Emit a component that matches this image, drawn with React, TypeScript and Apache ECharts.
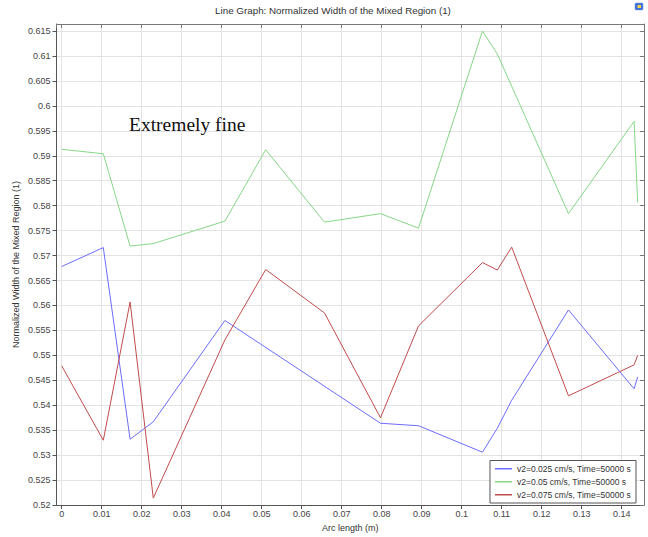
import React, { useEffect, useRef } from "react";
import * as echarts from "echarts";

// Arc length positions (m) shared by the three evaluation lines
const arcLength = [0, 0.0104, 0.0171, 0.0229, 0.0408, 0.051, 0.0657, 0.0797, 0.0892, 0.1052, 0.1089, 0.1125, 0.1267, 0.1431, 0.144];

// Normalized width of the mixed region (1); null where the line has no vertex
const widthV025 = [0.5678, 0.5716, 0.5332, 0.5367, 0.557, null, null, 0.5364, 0.5359, 0.5306, 0.5354, 0.541, 0.5591, 0.5433, 0.5457];
const widthV050 = [0.5913, 0.5904, 0.5719, 0.5724, 0.5769, 0.5912, 0.5767, 0.5784, 0.5755, 0.615, 0.6104, null, 0.5784, 0.5969, 0.5806];
const widthV075 = [0.5479, 0.533, 0.5607, 0.5214, 0.5531, 0.5672, 0.5585, 0.5375, 0.5559, 0.5686, 0.5671, 0.5717, 0.5419, 0.5481, 0.55];

const seriesNames = [
  "v2=0.025 cm/s, Time=50000 s",
  "v2=0.05 cm/s, Time=50000 s",
  "v2=0.075 cm/s, Time=50000 s",
];
const seriesValues = [widthV025, widthV050, widthV075];
const seriesColors = ["#6c6cff", "#86d686", "#c04c4c"];

const titleText = "Line Graph: Normalized Width of the Mixed Region (1)";
const xAxisTitle = "Arc length (m)";
const yAxisTitle = "Normalized Width of the Mixed Region (1)";
const annotationText = "Extremely fine";

const X_MIN = -0.0013;
const X_MAX = 0.14558;
const X_STEP = 0.01;
const Y_MIN = 0.52;
const Y_MAX = 0.6164;
const Y_STEP = 0.005;

const UI_FONT = "'Liberation Sans', Arial, sans-serif";

function toPairs(values: (number | null)[]) {
  const out: [number, number][] = [];
  values.forEach((v, i) => {
    if (v !== null) out.push([arcLength[i], v]);
  });
  return out;
}

export default function App() {
  const ref = useRef<HTMLDivElement>(null);

  useEffect(() => {
    if (!ref.current) return;
    const chart = echarts.init(ref.current, undefined, { renderer: "svg" });

    const frameAxisX = {
      type: "value" as const,
      min: X_MIN,
      max: X_MAX,
      splitNumber: 15,
      minInterval: X_STEP,
      maxInterval: X_STEP,
    };
    const frameAxisY = {
      type: "value" as const,
      min: Y_MIN,
      max: Y_MAX,
      splitNumber: 19,
      minInterval: Y_STEP,
      maxInterval: Y_STEP,
    };

    chart.setOption({
      animation: false,
      backgroundColor: "#ffffff",
      grid: { left: 56.5, right: 4, top: 24, bottom: 26, containLabel: false },
      xAxis: [
        {
          ...frameAxisX,
          position: "bottom",
          name: xAxisTitle,
          nameLocation: "middle",
          nameGap: 14,
          nameTextStyle: { fontSize: 9, color: "#333", fontFamily: UI_FONT },
          axisLine: { onZero: false, lineStyle: { color: "#555", width: 1 } },
          axisTick: { inside: false, length: 4, lineStyle: { color: "#555" } },
          axisLabel: { showMinLabel: false, showMaxLabel: false, fontSize: 9, color: "#444", margin: 4, fontFamily: UI_FONT },
          splitLine: { show: true, lineStyle: { color: "#e3e3e3", width: 1 } },
        },
        {
          ...frameAxisX,
          position: "top",
          axisLine: { onZero: false, lineStyle: { color: "#777", width: 1 } },
          axisTick: { inside: true, length: 4, lineStyle: { color: "#777" } },
          axisLabel: { show: false },
          splitLine: { show: false },
        },
      ],
      yAxis: [
        {
          ...frameAxisY,
          position: "left",
          name: yAxisTitle,
          nameLocation: "middle",
          nameGap: 36,
          nameMoveOverlap: false,
          nameTextStyle: { fontSize: 9, color: "#333", fontFamily: UI_FONT },
          axisLine: { onZero: false, lineStyle: { color: "#555", width: 1 } },
          axisTick: { inside: false, length: 4, lineStyle: { color: "#555" } },
          axisLabel: { showMinLabel: true, showMaxLabel: false, fontSize: 9, color: "#444", margin: 6, fontFamily: UI_FONT },
          splitLine: { show: true, lineStyle: { color: "#e3e3e3", width: 1 } },
        },
        {
          ...frameAxisY,
          position: "right",
          axisLine: { onZero: false, lineStyle: { color: "#777", width: 1 } },
          axisTick: { inside: true, length: 4, lineStyle: { color: "#777" } },
          axisLabel: { show: false },
          splitLine: { show: false },
        },
      ],
      legend: {
        orient: "vertical",
        right: 12,
        bottom: 34,
        backgroundColor: "#ffffff",
        borderColor: "#555",
        borderWidth: 1,
        borderRadius: 0,
        padding: [3, 5, 3, 5],
        itemGap: 2.5,
        icon: "rect",
        itemWidth: 17,
        itemHeight: 1.5,
        textStyle: { fontSize: 8.5, color: "#333", fontFamily: UI_FONT, lineHeight: 10.5 },
        data: seriesNames,
      },
      series: seriesNames.map((name, i) => ({
        name,
        type: "line",
        xAxisIndex: 0,
        yAxisIndex: 0,
        symbol: "none",
        color: seriesColors[i],
        lineStyle: { width: 1, color: seriesColors[i] },
        data: toPairs(seriesValues[i]),
        z: 3,
      })),
      graphic: [
        {
          type: "text",
          x: 333,
          y: 10,
          style: {
            text: titleText,
            fontSize: 9.8,
            fill: "#333",
            fontFamily: UI_FONT,
            textAlign: "center",
            textVerticalAlign: "middle",
          },
        },
        {
          type: "rect",
          shape: { x: 635, y: 3, width: 8, height: 7, r: 1 },
          style: { fill: "#3f6fd6", stroke: "#6f95e6", lineWidth: 0.5 },
        },
        {
          type: "rect",
          shape: { x: 637.5, y: 5, width: 3.5, height: 3 },
          style: { fill: "#f2d64a" },
        },
        {
          type: "text",
          x: 129,
          y: 124,
          z: 10,
          style: {
            text: annotationText,
            fontSize: 19.5,
            fill: "#111",
            fontFamily: "'Liberation Serif', 'Times New Roman', serif",
            textAlign: "left",
            textVerticalAlign: "middle",
          },
        },
      ],
    });

    return () => chart.dispose();
  }, []);

  return (
    <div
      ref={ref}
      style={{ position: "fixed", left: 0, top: 0, width: 648, height: 537, background: "#fff" }}
    />
  );
}
